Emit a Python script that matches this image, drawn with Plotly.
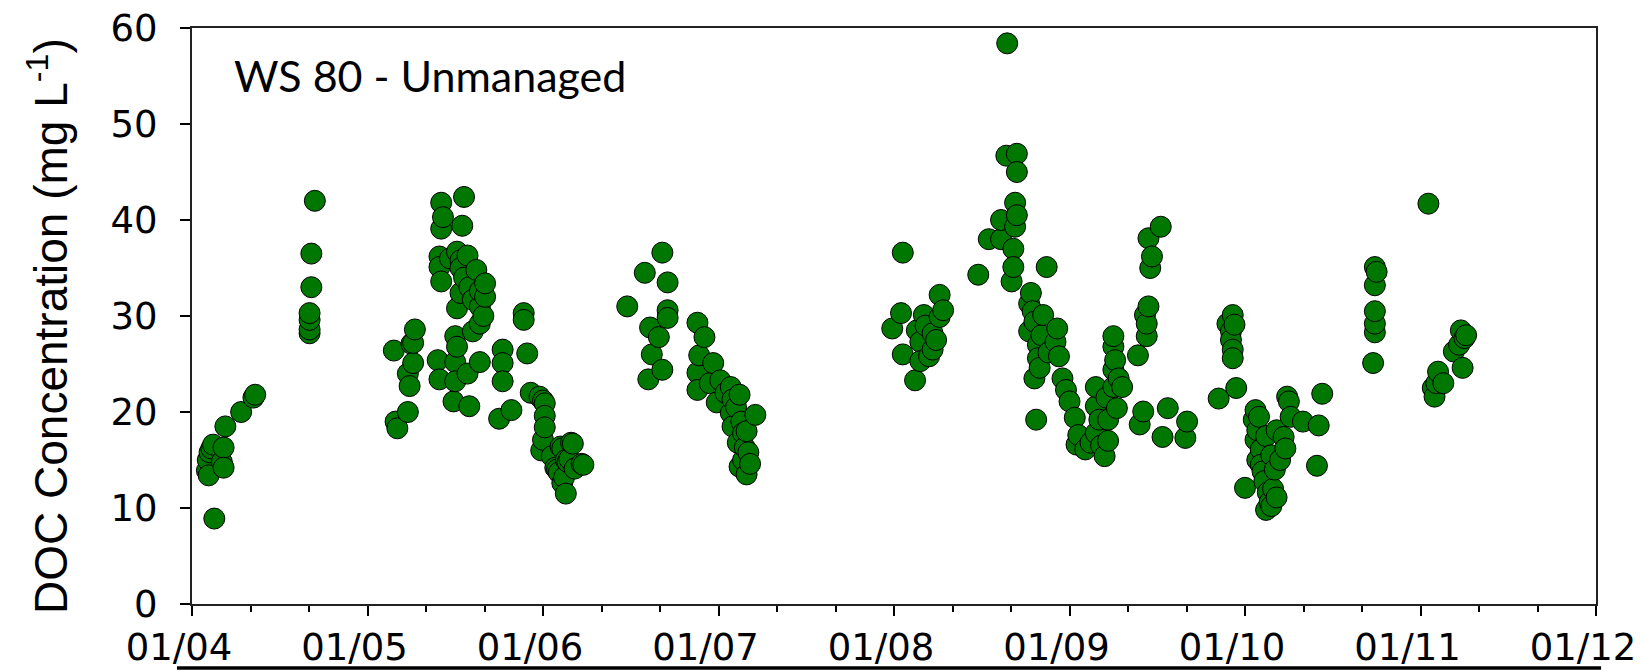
import plotly.graph_objects as go

# ---- data (decimal year, DOC mg/L) ----
t_2004 = [2004.085, 2004.09, 2004.095, 2004.10, 2004.11, 2004.12, 2004.127, 2004.17, 2004.18, 2004.18,
          2004.19, 2004.28, 2004.35, 2004.36, 2004.67, 2004.67, 2004.67, 2004.67, 2004.68, 2004.68, 2004.70]
c_2004 = [13.9, 15.0, 13.4, 15.8, 16.2, 16.6, 8.9, 14.8, 16.3, 14.2,
          18.5, 20.0, 21.5, 21.8, 28.2, 28.6, 29.6, 30.3, 33.0, 36.5, 42.0]

t_2005 = [2005.15, 2005.16, 2005.17, 2005.23, 2005.23, 2005.24, 2005.25, 2005.26, 2005.26, 2005.27,
          2005.40, 2005.41, 2005.41, 2005.41, 2005.42, 2005.42, 2005.42, 2005.43, 2005.47, 2005.49,
          2005.50, 2005.50, 2005.50, 2005.51, 2005.51, 2005.51, 2005.53, 2005.53, 2005.53, 2005.54,
          2005.55, 2005.55, 2005.57, 2005.57, 2005.58, 2005.58, 2005.60, 2005.60, 2005.62, 2005.64,
          2005.64, 2005.64, 2005.64, 2005.66, 2005.67, 2005.67, 2005.75, 2005.77, 2005.77, 2005.77,
          2005.82, 2005.89, 2005.89, 2005.91, 2005.93, 2005.98, 2005.99]
c_2005 = [26.4, 19.0, 18.3, 24.0, 20.0, 22.7, 27.1, 25.1, 27.2, 28.6,
          25.4, 36.2, 35.1, 23.4, 41.8, 39.1, 33.6, 40.3, 36.0, 21.1,
          27.9, 25.2, 23.2, 36.7, 30.8, 26.8, 35.8, 35.0, 32.4, 39.4,
          42.4, 34.0, 24.0, 36.3, 33.0, 20.6, 28.4, 31.7, 34.8, 31.0,
          29.2, 25.2, 32.6, 30.0, 32.0, 33.4, 19.3, 26.5, 25.1, 23.2,
          20.2, 30.3, 29.6, 26.1, 22.0, 21.6, 16.0]

t_2006 = [2006.00, 2006.00, 2006.01, 2006.01, 2006.01, 2006.05, 2006.07, 2006.08, 2006.09, 2006.10,
          2006.11, 2006.11, 2006.12, 2006.13, 2006.13, 2006.14, 2006.15, 2006.16, 2006.17, 2006.18,
          2006.22, 2006.23, 2006.48, 2006.58, 2006.60, 2006.61, 2006.62, 2006.66, 2006.68, 2006.68,
          2006.71, 2006.71, 2006.71, 2006.88, 2006.88, 2006.88, 2006.89, 2006.92, 2006.95, 2006.97,
          2006.99]
c_2006 = [21.2, 17.1, 20.9, 19.6, 18.4, 15.4, 14.2, 14.0, 13.7, 16.4,
          16.2, 12.6, 13.2, 11.5, 15.0, 14.8, 15.1, 16.8, 16.7, 14.1,
          14.6, 14.5, 31.0, 34.5, 23.4, 28.8, 26.0, 27.8, 36.6, 24.4,
          33.5, 30.6, 29.8, 29.3, 24.1, 22.3, 25.9, 27.8, 23.0, 25.1,
          21.0]

t_2007 = [2007.01, 2007.04, 2007.07, 2007.07, 2007.08, 2007.08, 2007.10, 2007.11, 2007.12, 2007.12,
          2007.13, 2007.14, 2007.14, 2007.15, 2007.16, 2007.16, 2007.17, 2007.18, 2007.21, 2007.99]
c_2007 = [23.3, 22.0, 22.6, 19.9, 21.3, 18.5, 20.5, 16.8, 14.3, 21.8,
          19.0, 17.8, 15.0, 16.3, 13.5, 18.0, 15.8, 14.6, 19.7, 28.7]

t_2008 = [2008.04, 2008.05, 2008.05, 2008.12, 2008.13, 2008.15, 2008.15, 2008.17, 2008.18, 2008.20,
          2008.22, 2008.22, 2008.24, 2008.26, 2008.26, 2008.28, 2008.48, 2008.54, 2008.61, 2008.61,
          2008.645, 2008.64, 2008.67, 2008.68, 2008.68, 2008.69, 2008.69, 2008.70, 2008.70, 2008.70,
          2008.77, 2008.77, 2008.78, 2008.79, 2008.80, 2008.80, 2008.81, 2008.82, 2008.82, 2008.83,
          2008.84, 2008.85, 2008.87, 2008.88, 2008.92, 2008.93, 2008.94, 2008.96, 2008.98]
c_2008 = [30.3, 36.6, 26.0, 23.3, 28.5, 27.3, 25.3, 30.1, 29.0, 25.8,
          28.2, 26.5, 27.5, 32.2, 29.9, 30.6, 34.3, 38.0, 38.0, 40.0,
          58.4, 46.7, 33.6, 37.0, 35.1, 41.8, 39.3, 46.9, 45.0, 40.5,
          31.3, 28.4, 32.4, 30.5, 29.4, 23.5, 19.2, 27.0, 25.6, 24.6,
          28.0, 30.1, 35.1, 26.2, 27.3, 28.7, 25.8, 23.5, 22.3]

t_2009 = [2009.00, 2009.03, 2009.04, 2009.05, 2009.09, 2009.12, 2009.15, 2009.15, 2009.15, 2009.17,
          2009.18, 2009.20, 2009.21, 2009.22, 2009.22, 2009.25, 2009.25, 2009.25, 2009.25, 2009.26,
          2009.27, 2009.28, 2009.30, 2009.39, 2009.40, 2009.42, 2009.43, 2009.44, 2009.44, 2009.45,
          2009.45, 2009.46, 2009.47, 2009.52, 2009.53, 2009.56, 2009.66, 2009.67, 2009.85, 2009.90,
          2009.92, 2009.92, 2009.93, 2009.93, 2009.93, 2009.94, 2009.95]
c_2009 = [21.1, 19.4, 16.6, 17.6, 16.1, 16.8, 17.8, 20.6, 22.6, 19.2,
          16.5, 15.4, 21.5, 19.2, 17.0, 22.6, 24.4, 26.8, 27.9, 25.4,
          20.4, 23.5, 22.6, 25.9, 18.7, 20.05, 30.1, 27.9, 29.2, 31.0,
          38.1, 35.0, 36.2, 39.3, 17.4, 20.4, 17.3, 19.0, 21.4, 29.2,
          28.4, 27.5, 30.1, 26.5, 25.6, 29.1, 22.5]

t_2010 = [2010.00, 2010.05, 2010.06, 2010.06, 2010.07, 2010.07, 2010.08, 2010.09, 2010.09, 2010.10,
          2010.11, 2010.12, 2010.12, 2010.13, 2010.14, 2010.15, 2010.15, 2010.16, 2010.17, 2010.18,
          2010.18, 2010.20, 2010.22, 2010.23, 2010.24, 2010.25, 2010.26, 2010.33, 2010.41, 2010.42,
          2010.44, 2010.73, 2010.74, 2010.74, 2010.74, 2010.74, 2010.74, 2010.75]
c_2010 = [12.1, 19.2, 20.2, 17.1, 18.1, 15.0, 19.5, 16.1, 14.5, 13.8,
          12.8, 9.8, 17.5, 11.6, 10.6, 10.2, 15.5, 12.0, 14.0, 11.1,
          18.1, 15.0, 17.4, 16.2, 21.6, 21.1, 19.5, 19.0, 14.4, 18.6,
          21.9, 25.1, 28.3, 29.2, 30.5, 33.2, 35.1, 34.6]

t_2011 = [2011.045, 2011.07, 2011.08, 2011.09, 2011.10, 2011.13, 2011.19, 2011.22, 2011.23, 2011.24,
          2011.25, 2011.26]
c_2011 = [41.7, 22.5, 21.6, 23.0, 24.2, 23.0, 26.3, 27.0, 28.5, 24.6,
          27.7, 28.0]

year_ticks = [2004, 2005, 2006, 2007, 2008, 2009, 2010, 2011, 2012]
year_labels = ["01/04", "01/05", "01/06", "01/07", "01/08", "01/09", "01/10", "01/11", "01/12"]
conc_ticks = [0, 10, 20, 30, 40, 50, 60]

t_all = t_2004 + t_2005 + t_2006 + t_2007 + t_2008 + t_2009 + t_2010 + t_2011
c_all = c_2004 + c_2005 + c_2006 + c_2007 + c_2008 + c_2009 + c_2010 + c_2011

fig = go.Figure()
fig.add_trace(go.Scatter(
    x=t_all, y=c_all, mode="markers",
    marker=dict(symbol="circle", size=21, color="#007700",
                line=dict(color="black", width=1)),
    showlegend=False, cliponaxis=False,
))

tick_font = dict(family="DejaVu Sans", size=37, color="black")

fig.update_layout(
    template="none",
    width=1644, height=672,
    margin=dict(l=192, r=48, t=27.5, b=67.5, autoexpand=False),
    paper_bgcolor="white", plot_bgcolor="white",
    xaxis=dict(
        range=[2004, 2012], tickmode="array", tickvals=year_ticks, ticktext=year_labels,
        ticks="outside", ticklen=10, tickwidth=1.5, tickcolor="black",
        showline=True, linecolor="#222", linewidth=2, mirror=True,
        showgrid=False, zeroline=False, tickfont=tick_font, automargin=False,
        ticklabelshift=-13, ticklabelstandoff=0,
        minor=dict(dtick=1/3, tick0=2004, ticks="outside", ticklen=6,
                   tickwidth=1.5, tickcolor="black", showgrid=False),
    ),
    yaxis=dict(
        range=[0, 60], tickmode="array", tickvals=conc_ticks,
        ticks="outside", ticklen=10, tickwidth=1.5, tickcolor="black",
        showline=True, linecolor="#222", linewidth=2, mirror=True,
        showgrid=False, zeroline=False, tickfont=tick_font, automargin=False,
        ticklabelstandoff=15,
    ),
)

# y-axis title as rotated annotation
fig.add_annotation(
    text="DOC Concentration (mg L<sup>-1</sup>)", textangle=-90,
    xref="paper", yref="paper", x=0, y=0.5, xshift=-144, yshift=-10,
    xanchor="center", yanchor="middle", showarrow=False,
    font=dict(family="Liberation Sans", size=46, color="black"),
)
# panel label
fig.add_annotation(
    text="WS 80 - Unmanaged",
    xref="paper", yref="paper", x=0, y=1, xshift=40, yshift=-20,
    xanchor="left", yanchor="top", showarrow=False,
    font=dict(family="Lato", size=43, color="black"),
)

# small black square markers at frame corners / mid ticks
def square(xa, ya, dx0, dx1, dy0, dy1):
    fig.add_shape(type="rect", xref="x", yref="y",
                  xsizemode="pixel", ysizemode="pixel",
                  xanchor=xa, yanchor=ya, x0=dx0, x1=dx1, y0=dy0, y1=dy1,
                  fillcolor="black", line=dict(width=0))

square(2004, 60, -10, 0, 0, 9)
square(2008, 60, -5, 5, 0, 9)
square(2012, 60, 1, 11, 0, 8)
square(2012, 30, 1, 11, -4, 4)
square(2004, 0, -10, 0, -10, 0)
square(2012, 0, 0, 11, -9, 0)

# thick rule under the date labels
fig.add_shape(type="line", xref="paper", yref="paper", ysizemode="pixel", yanchor=0,
              x0=-0.0107, x1=1.0036, y0=-64, y1=-64,
              line=dict(color="black", width=3.5))

fig.write_html("out.html")
